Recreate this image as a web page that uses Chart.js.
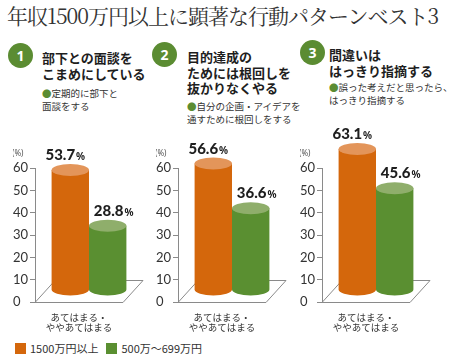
<!DOCTYPE html>
<html lang="ja">
<head>
<meta charset="utf-8">
<script src="https://cdn.jsdelivr.net/npm/chart.js@4/dist/chart.umd.min.js"></script>
<style>
  html, body { margin: 0; padding: 0; background: #fff; }
  body { width: 450px; height: 361px; position: relative; overflow: hidden;
         font-family: "Noto Sans CJK JP", "Noto Sans", sans-serif; color: #222; }
  .title { position: absolute; left: 7px; top: 2px; font-size: 21px; letter-spacing: -1px;
           font-family: "Noto Serif CJK JP", "Liberation Serif", "DejaVu Serif", serif; color: #333;
           white-space: nowrap; line-height: 26px; }
  .badge { position: absolute; width: 25px; height: 25px; border-radius: 50%; background: #5b8c32;
           color: #fff; font: bold 14px "Noto Sans", sans-serif; text-align: center; line-height: 25px; }
  .head { position: absolute; font-size: 13px; font-weight: 700; line-height: 15.5px; white-space: nowrap; color: #1e1e1e; }
  .note { position: absolute; font-size: 9.5px; line-height: 12.5px; white-space: nowrap; color: #333; }
  .note .dot { color: #5b8c32; }
  canvas { position: absolute; }
  .legend { position: absolute; top: 342px; font-size: 11px; line-height: 12px; white-space: nowrap; color: #333; }
  .legend i { display: inline-block; width: 11px; height: 11px; vertical-align: -1px; margin-right: 4px; }
</style>
</head>
<body>
<div class="title">年収1500万円以上に顕著な行動パターンベスト3</div>
<div id="panels"></div>
<script>
// data
const categories = [['あてはまる・', 'ややあてはまる']];
const seriesNames = ['1500万円以上', '500万〜699万円'];
const highIncome = [53.7, 56.6, 63.1];
const midIncome = [28.8, 36.6, 45.6];
const panelNumbers = ['1', '2', '3'];
const headings = [
  ['部下との面談を', 'こまめにしている'],
  ['目的達成の', 'ためには根回しを', '抜かりなくやる'],
  ['間違いは', 'はっきり指摘する']
];
const notes = [
  ['定期的に部下と', '面談をする'],
  ['自分の企画・アイデアを', '通すために根回しをする'],
  ['誤った考えだと思ったら、', 'はっきり指摘する']
];
const yMin = 0, yMax = 60, yStep = 10;

// styles / layout
const bodyColors = ['#d4670c', '#5a8f31'];
const topColors = ['#e3955a', '#8fae6b'];
const labelShift = [-5, 6];
const axisX = [35, 178, 322];
const badgePos = [[8, 43], [152, 42], [300, 40]];
const headPos = [[42, 50], [187, 49], [329, 47]];
const notePos = [[42, 87], [187, 100], [329, 81]];
const depth = { x: 20, y: -22 };

const panels = document.getElementById('panels');
for (let i = 0; i < 3; i++) {
  const b = document.createElement('div');
  b.className = 'badge';
  b.style.left = badgePos[i][0] + 'px'; b.style.top = badgePos[i][1] + 'px';
  b.textContent = panelNumbers[i];
  panels.appendChild(b);

  const h = document.createElement('div');
  h.className = 'head';
  h.style.left = headPos[i][0] + 'px'; h.style.top = headPos[i][1] + 'px';
  h.innerHTML = headings[i].join('<br>');
  panels.appendChild(h);

  const n = document.createElement('div');
  n.className = 'note';
  n.style.left = notePos[i][0] + 'px'; n.style.top = notePos[i][1] + 'px';
  n.innerHTML = '<span class="dot">●</span>' + notes[i].join('<br>');
  panels.appendChild(n);
}

// legend
const legend = document.createElement('div');
legend.className = 'legend';
legend.style.left = '15px';
legend.innerHTML = seriesNames.map((s, k) =>
  `<span style="margin-right:${k === 0 ? 8 : 0}px"><i style="background:${bodyColors[k]}"></i>${s}</span>`).join('');
document.body.appendChild(legend);

// draws floor + cylinders instead of flat bars
const cylinderPlugin = {
  id: 'cylinders',
  beforeDatasetsDraw(chart) {
    const ctx = chart.ctx;
    const a = chart.chartArea;
    ctx.save();
    // floor
    ctx.strokeStyle = '#8a8a8a';
    ctx.lineWidth = 1;
    ctx.beginPath();
    ctx.moveTo(a.left, a.bottom + 0.5);
    ctx.lineTo(a.right, a.bottom + 0.5);
    ctx.lineTo(a.right + depth.x, a.bottom + depth.y + 0.5);
    ctx.lineTo(a.left + depth.x, a.bottom + depth.y + 0.5);
    ctx.closePath();
    ctx.stroke();

    // (%) label
    ctx.fillStyle = '#555';
    ctx.font = '8px "Noto Sans", sans-serif';
    ctx.textAlign = 'left';
    ctx.textBaseline = 'middle';
    ctx.fillText('(%)', a.left - 23, a.top - 14);

    const dx = depth.x / 2, dy = depth.y / 2 - 1;
    const tops = [];
    [1, 0].forEach(d => {
      chart.getDatasetMeta(d).data.forEach(bar => {
        const cx = bar.x + dx;
        const rx = bar.width / 2;
        const ry = 6;
        const top = bar.y + dy;
        const bottom = bar.base + dy;
        ctx.fillStyle = bodyColors[d];
        ctx.beginPath();
        ctx.moveTo(cx - rx, top);
        ctx.lineTo(cx - rx, bottom);
        ctx.ellipse(cx, bottom, rx, ry, 0, Math.PI, 0, true);
        ctx.lineTo(cx + rx, top);
        ctx.closePath();
        ctx.fill();
        ctx.fillStyle = topColors[d];
        ctx.beginPath();
        ctx.ellipse(cx, top, rx, ry, 0, 0, Math.PI * 2);
        ctx.fill();
        tops[d] = { cx, top, v: chart.data.datasets[d].data[0] };
      });
    });

    // value labels
    tops.forEach((t, d) => {
      const num = t.v.toFixed(1);
      const y = t.top - 10;
      ctx.textBaseline = 'alphabetic';
      ctx.font = '900 15px Lato, "Noto Sans", sans-serif';
      const w1 = ctx.measureText(num).width;
      ctx.font = 'bold 10px "Noto Sans", sans-serif';
      const w2 = ctx.measureText('%').width;
      const x0 = t.cx + labelShift[d] - (w1 + w2 + 1) / 2;
      ctx.fillStyle = '#1e1e1e';
      ctx.font = '900 15px Lato, "Noto Sans", sans-serif';
      ctx.textAlign = 'left';
      ctx.fillText(num, x0, y);
      ctx.font = 'bold 10px "Noto Sans", sans-serif';
      ctx.fillText('%', x0 + w1 + 1, y);
    });
    ctx.restore();
    return false;
  }
};

const plotWidth = 88;
const canvasTop = 120, canvasHeight = 220, areaTop = 168, areaBottom = 302;

for (let i = 0; i < 3; i++) {
  const cv = document.createElement('canvas');
  const left = axisX[i] - 22;
  const width = 22 + plotWidth + 22;
  cv.width = width; cv.height = canvasHeight;
  cv.style.left = left + 'px'; cv.style.top = canvasTop + 'px';
  cv.style.width = width + 'px'; cv.style.height = canvasHeight + 'px';
  document.body.appendChild(cv);

  new Chart(cv, {
    type: 'bar',
    data: {
      labels: categories,
      datasets: [
        { label: seriesNames[0], data: [highIncome[i]], backgroundColor: bodyColors[0] },
        { label: seriesNames[1], data: [midIncome[i]], backgroundColor: bodyColors[1] }
      ]
    },
    options: {
      responsive: false,
      animation: false,
      events: [],
      layout: { padding: { top: areaTop - canvasTop, right: 22, left: 0, bottom: 0 } },
      datasets: { bar: { barPercentage: 1, categoryPercentage: 0.85 } },
      plugins: { legend: { display: false }, tooltip: { enabled: false } },
      scales: {
        x: {
          grid: { display: false },
          border: { display: false },
          ticks: { color: '#333', padding: 2, font: { size: 9.5, family: '"Noto Sans CJK JP", sans-serif', lineHeight: 1.1 } },
          afterFit(s) { s.height = canvasTop + canvasHeight - areaBottom; }
        },
        y: {
          min: yMin, max: yMax,
          ticks: { stepSize: yStep, color: '#333', crossAlign: 'far', padding: 4,
                   font: { size: 13, family: 'Lato, "Noto Sans", sans-serif' } },
          grid: { drawOnChartArea: false, tickLength: 5, color: '#8a8a8a' },
          border: { color: '#8a8a8a' },
          afterFit(s) { s.width = 22; }
        }
      }
    },
    plugins: [cylinderPlugin]
  });
}
</script>
</body>
</html>
